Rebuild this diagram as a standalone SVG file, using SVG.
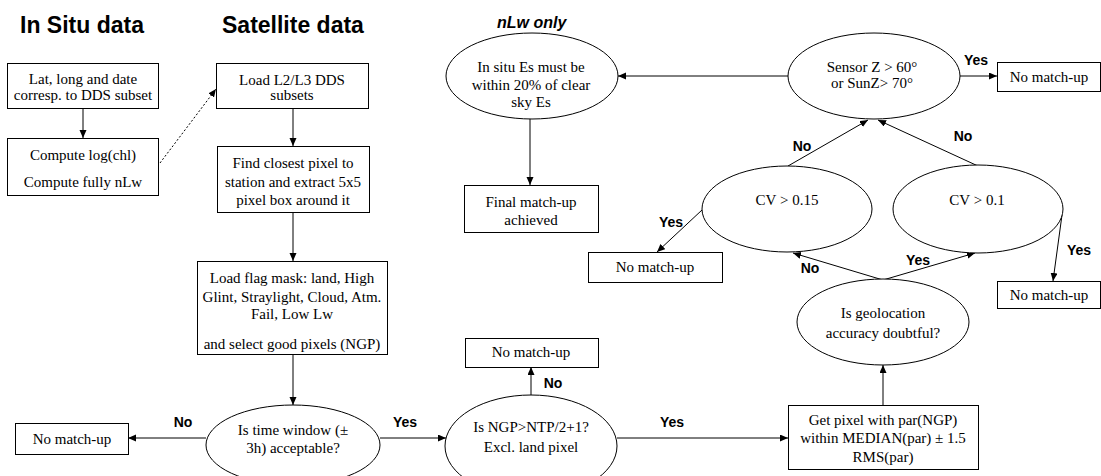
<svg xmlns="http://www.w3.org/2000/svg" width="1101" height="476" viewBox="0 0 1101 476">
<style>
.bg{fill:#fff}
.n rect,.n ellipse{fill:#fff;stroke:#000;stroke-width:1}
.t{font-family:"Liberation Serif","Times New Roman",serif;font-size:15px;fill:#000;text-anchor:middle}
.title{font-family:"Liberation Sans",Arial,sans-serif;font-weight:bold;font-size:23px;fill:#000}
.sub{font-family:"Liberation Sans",Arial,sans-serif;font-weight:bold;font-style:italic;font-size:16px;fill:#000}
.lbl{font-family:"Liberation Sans",Arial,sans-serif;font-weight:bold;font-size:14px;fill:#000;text-anchor:middle}
.c line{stroke:#000;stroke-width:1;fill:none;marker-end:url(#ah)}
.c .dot{stroke-dasharray:2,2}
</style>
<defs>
<marker id="ah" markerUnits="userSpaceOnUse" markerWidth="9" markerHeight="8" refX="8" refY="3.5" orient="auto">
<path d="M0,0 L8,3.5 L0,7 z" fill="#000"/>
</marker>
</defs>
<rect class="bg" x="0" y="0" width="1101" height="476"/>
<g id="titles">
<text class="title" x="20" y="33">In Situ data</text>
<text class="title" x="222" y="33">Satellite data</text>
<text class="sub" x="497" y="28">nLw only</text>
</g>
<g id="connectors" class="c">
<line x1="83" y1="108" x2="83" y2="138"/>
<line class="dot" x1="160" y1="163" x2="216" y2="89"/>
<line x1="293" y1="108" x2="293" y2="146"/>
<line x1="293" y1="212" x2="293" y2="261"/>
<line x1="293" y1="354" x2="293" y2="405"/>
<line x1="206" y1="438" x2="128" y2="438"/>
<line x1="380" y1="438" x2="446" y2="438"/>
<line x1="531" y1="395" x2="531" y2="367"/>
<line x1="617" y1="438" x2="788" y2="438"/>
<line x1="883" y1="405" x2="883" y2="365"/>
<line x1="883" y1="280" x2="793" y2="253"/>
<line x1="883" y1="280" x2="975" y2="253"/>
<line x1="702" y1="210" x2="657" y2="252"/>
<line x1="1062" y1="215" x2="1053" y2="281"/>
<line x1="788" y1="166" x2="868" y2="120"/>
<line x1="978" y1="166" x2="878" y2="120"/>
<line x1="960" y1="76" x2="997" y2="76"/>
<line x1="788" y1="76" x2="618" y2="76"/>
<line x1="530" y1="118" x2="530" y2="185"/>
</g>
<g id="labels">
<text class="lbl" x="183" y="427">No</text>
<text class="lbl" x="405" y="427">Yes</text>
<text class="lbl" x="553" y="388">No</text>
<text class="lbl" x="672" y="427">Yes</text>
<text class="lbl" x="810" y="273">No</text>
<text class="lbl" x="918" y="265">Yes</text>
<text class="lbl" x="671" y="227">Yes</text>
<text class="lbl" x="1079" y="255">Yes</text>
<text class="lbl" x="802" y="151">No</text>
<text class="lbl" x="963" y="141">No</text>
<text class="lbl" x="976" y="65">Yes</text>
</g>
<g id="n1" class="n"><rect x="7.5" y="63.5" width="151" height="45"/>
<text class="t" x="83" y="84">Lat, long and date</text><text class="t" x="83" y="100">corresp. to DDS subset</text></g>
<g id="n2" class="n"><rect x="7.5" y="138.5" width="151" height="57"/>
<text class="t" x="83" y="160">Compute log(chl)</text><text class="t" x="83" y="187">Compute fully nLw</text></g>
<g id="n3" class="n"><rect x="216.5" y="63.5" width="152" height="45"/>
<text class="t" x="292" y="85">Load L2/L3 DDS</text><text class="t" x="292" y="100">subsets</text></g>
<g id="n4" class="n"><rect x="217.5" y="146.5" width="152" height="66"/>
<text class="t" x="293" y="168">Find closest pixel to</text><text class="t" x="293" y="187">station and extract 5x5</text><text class="t" x="293" y="205">pixel box around it</text></g>
<g id="n5" class="n"><rect x="197.5" y="261.5" width="190" height="93"/>
<text class="t" x="292" y="283">Load flag mask: land, High</text><text class="t" x="292" y="302">Glint, Straylight, Cloud, Atm.</text><text class="t" x="292" y="319">Fail, Low Lw</text><text class="t" x="292" y="349">and select good pixels (NGP)</text></g>
<g id="n6" class="n"><ellipse cx="293" cy="445" rx="87" ry="40"/>
<text class="t" x="293" y="435">Is time window (±</text><text class="t" x="293" y="453">3h) acceptable?</text></g>
<g id="n7" class="n"><rect x="15.5" y="423.5" width="113" height="31"/>
<text class="t" x="72" y="444">No match-up</text></g>
<g id="n8" class="n"><ellipse cx="531" cy="446" rx="86" ry="51"/>
<text class="t" x="531" y="432">Is NGP&gt;NTP/2+1?</text><text class="t" x="531" y="452">Excl. land pixel</text></g>
<g id="n9" class="n"><rect x="465.5" y="338.5" width="133" height="29"/>
<text class="t" x="531" y="357">No match-up</text></g>
<g id="n10" class="n"><rect x="788.5" y="405.5" width="190" height="64"/>
<text class="t" x="883" y="425">Get pixel with par(NGP)</text><text class="t" x="883" y="443">within MEDIAN(par) ± 1.5</text><text class="t" x="883" y="462">RMS(par)</text></g>
<g id="n11" class="n"><ellipse cx="883" cy="322" rx="86" ry="43"/>
<text class="t" x="883" y="318">Is geolocation</text><text class="t" x="883" y="338">accuracy doubtful?</text></g>
<g id="n12" class="n"><ellipse cx="787" cy="209" rx="85" ry="43"/>
<text class="t" x="787" y="205">CV &gt; 0.15</text></g>
<g id="n13" class="n"><ellipse cx="978" cy="209" rx="85" ry="44"/>
<text class="t" x="977" y="205">CV &gt; 0.1</text></g>
<g id="n14" class="n"><rect x="588.5" y="252.5" width="134" height="30"/>
<text class="t" x="655" y="272">No match-up</text></g>
<g id="n15" class="n"><rect x="997.5" y="281.5" width="103" height="27"/>
<text class="t" x="1049" y="300">No match-up</text></g>
<g id="n16" class="n"><ellipse cx="874" cy="76" rx="86" ry="43"/>
<text class="t" x="872" y="72">Sensor Z &gt; 60°</text><text class="t" x="872" y="88">or SunZ&gt; 70°</text></g>
<g id="n17" class="n"><rect x="997.5" y="62.5" width="103" height="29"/>
<text class="t" x="1049" y="82">No match-up</text></g>
<g id="n18" class="n"><ellipse cx="532" cy="76" rx="86" ry="43"/>
<text class="t" x="531" y="72">In situ Es must be</text><text class="t" x="531" y="90">within 20% of clear</text><text class="t" x="531" y="107">sky Es</text></g>
<g id="n19" class="n"><rect x="464.5" y="185.5" width="134" height="47"/>
<text class="t" x="531" y="207">Final match-up</text><text class="t" x="531" y="225">achieved</text></g>
</svg>
